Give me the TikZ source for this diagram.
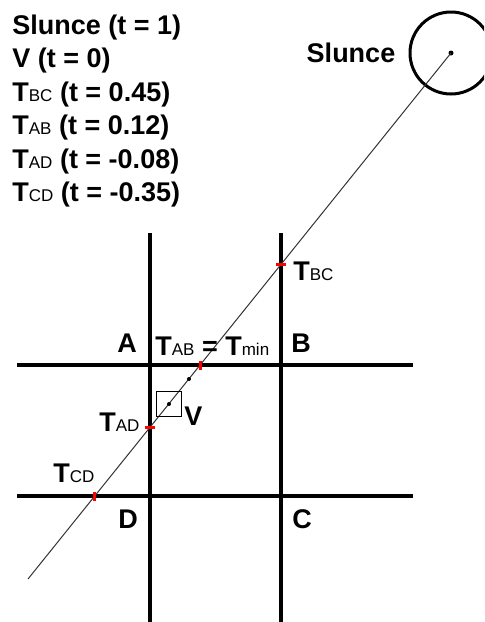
\documentclass[tikz,border=0pt]{standalone}
\usepackage{fontspec}
\setmainfont{Liberation Sans}
\usetikzlibrary{positioning}
\newcommand{\lsub}[1]{{\fontsize{8.5}{10}\selectfont\mdseries #1}}
\tikzset{
    gridline/.style={line width=2pt, draw=black},
    rayline/.style={line width=0.5pt, draw=black!80},
    hitmark/.style={line width=1.5pt, draw=red},
    lbl/.style={font=\fontsize{13.5}{16}\selectfont\bfseries, inner sep=0pt},
    dotmark/.style={circle, fill=black, inner sep=0pt, minimum size=2pt}
}
\begin{document}
\begin{tikzpicture}[x=0.5pt, y=-0.5pt]
    \useasboundingbox (0,0) rectangle (484,622);
    \clip (0,0) rectangle (484,622);

    % Parameter list
    \node[lbl, anchor=base west] (tsun) at (12,34) {Slunce (t = 1)};
    \node[lbl, anchor=base west] (tv) at (12,67.5) {V (t = 0)};
    \node[lbl, anchor=base west] (tbcl) at (12,101) {T\lsub{BC} (t = 0.45)};
    \node[lbl, anchor=base west] (tabl) at (12,134.5) {T\lsub{AB} (t = 0.12)};
    \node[lbl, anchor=base west] (tadl) at (12,168) {T\lsub{AD} (t = -0.08)};
    \node[lbl, anchor=base west] (tcdl) at (12,201) {T\lsub{CD} (t = -0.35)};

    % Grid
    \coordinate (vLtop) at (150,233);
    \coordinate (vLbot) at (150,622);
    \coordinate (vRtop) at (281,233);
    \coordinate (vRbot) at (281,622);
    \coordinate (hTl) at (17,365);
    \coordinate (hTr) at (413,365);
    \coordinate (hBl) at (17,496);
    \coordinate (hBr) at (413,496);
    \draw[gridline] (vLtop) -- (vLbot);
    \draw[gridline] (vRtop) -- (vRbot);
    \draw[gridline] (hTl) -- (hTr);
    \draw[gridline] (hBl) -- (hBr);

    % Sun and ray
    \coordinate (sun) at (451,53);
    \coordinate (rayend) at (28,579);
    \draw[line width=1.5pt] (sun) circle[radius=41];
    \node[dotmark, minimum size=2.5pt] (sundot) at (sun) {};
    \node[lbl, anchor=base] (sunlbl) at (351,62) {Slunce};
    \draw[rayline] (sun) -- (rayend);

    % Intersections
    \coordinate (tbc) at (intersection of sun--rayend and vRtop--vRbot);
    \coordinate (tab) at (intersection of sun--rayend and hTl--hTr);
    \coordinate (tad) at (intersection of sun--rayend and vLtop--vLbot);
    \coordinate (tcd) at (intersection of sun--rayend and hBl--hBr);
    \draw[hitmark] ([xshift=-2.25pt]tbc) -- ([xshift=2.25pt]tbc);
    \draw[hitmark] ([yshift=-2.25pt]tab) -- ([yshift=2.25pt]tab);
    \draw[hitmark] ([xshift=-2.25pt]tad) -- ([xshift=2.25pt]tad);
    \draw[hitmark] ([yshift=-2.25pt]tcd) -- ([yshift=2.25pt]tcd);

    % Viewer
    \node[draw, line width=0.5pt, minimum size=12.5pt, inner sep=0pt] (vbox) at (169,403.5) {};
    \node[dotmark] (vdot) at (169,404) {};
    \node[dotmark] (mindot) at (189,379) {};

    % Labels
    \node[lbl, anchor=base west] (lbc) at (293,280) {T\lsub{BC}};
    \node[lbl, anchor=base] (la) at (127,352) {A};
    \node[lbl, anchor=base west] (lab) at (155,355) {T\lsub{AB} = T\lsub{min}};
    \node[lbl, anchor=base] (lb) at (301,352) {B};
    \node[lbl, anchor=base west] (lv) at (184,425) {V};
    \node[lbl, anchor=base west] (lad) at (99,431) {T\lsub{AD}};
    \node[lbl, anchor=base west] (lcd) at (53,482) {T\lsub{CD}};
    \node[lbl, anchor=base] (ld) at (128,528) {D};
    \node[lbl, anchor=base] (lc) at (302,528) {C};
\end{tikzpicture}
\end{document}
